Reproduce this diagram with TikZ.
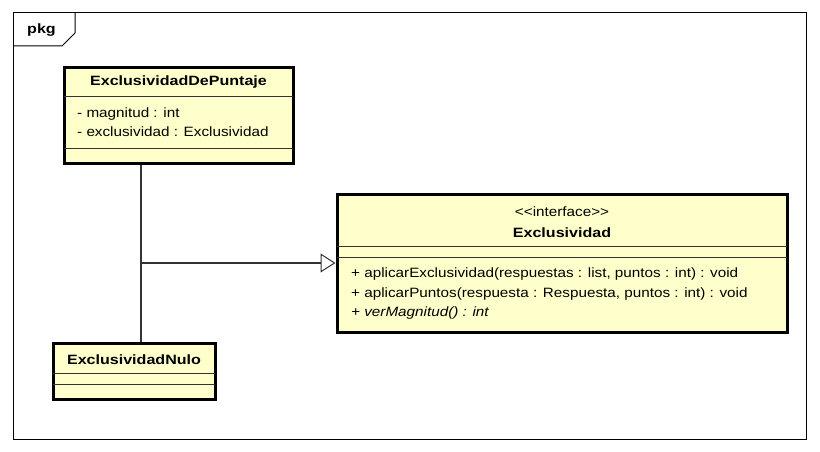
\documentclass[tikz,border=0pt]{standalone}
\usepackage{fontspec}
\setmainfont{Liberation Sans}[FakeStretch=1.13, BoldFeatures={FakeStretch=1.19}, BoldItalicFeatures={FakeStretch=1.19}]
\usetikzlibrary{arrows.meta}
\definecolor{classfill}{RGB}{255,255,204}
\definecolor{inkgray}{RGB}{51,51,51}
\newcommand\compline[3]{\draw [sep] (#1, #3) -- (#2, #3);}
\tikzset{
  classbox/.style={draw, fill=classfill, line width=3pt, inner sep=0},
  sep/.style={inkgray, line width=1pt},
  txt/.style={inner sep=0, font=\fontsize{13.5}{15}\selectfont},
  bold/.style={txt, font=\fontsize{13.5}{15}\selectfont\bfseries},
  link/.style={inkgray, line width=1.1pt}
}

\begin{document}
\begin{tikzpicture}[x=1pt, y=-1pt]
     \useasboundingbox (0, 0) rectangle (820, 452);

     \draw [line width=1pt] (13, 13) rectangle (806, 439);
     \draw [line width=1pt] (13, 46) -- (62, 46) -- (75, 33) -- (75, 13);
     \node [bold] (pkg) at (41.5, 30) {pkg};

     \node [classbox, minimum width=229, minimum height=95] (dp) at (178.5, 115.5) {};
     \compline{64}{293}{97}
     \compline{64}{293}{148}
     \node [bold] (dpname) at (178.5, 82) {ExclusividadDePuntaje};
     \node [txt, anchor=west] (dpa1) at (77, 114) {- magnitud : int};
     \node [txt, anchor=west] (dpa2) at (77, 132) {- exclusividad : Exclusividad};

     \node [classbox, minimum width=450, minimum height=138] (ex) at (562, 263) {};
     \compline{337}{787}{246}
     \compline{337}{787}{257}
     \node [txt] (exst) at (562, 212) {<\kern0pt<interface>\kern0pt>};
     \node [bold] (exname) at (562, 233) {Exclusividad};
     \node [txt, anchor=west] (exm1) at (351, 274) {+ aplicarExclusividad(respuestas : list, puntos : int) : void};
     \node [txt, anchor=west] (exm2) at (351, 294) {+ aplicarPuntos(respuesta : Respuesta, puntos : int) : void};
     \node [txt, anchor=west] (exm3) at (351, 313) {\itshape + verMagnitud() : int};

     \node [classbox, minimum width=162, minimum height=56] (nu) at (134, 371) {};
     \compline{53}{215}{373}
     \compline{53}{215}{384}
     \node [bold] (nuname) at (134, 360) {ExclusividadNulo};

     \coordinate (jn) at (141, 263);
     \draw [link] (jn |- dp.south) -- (jn |- nu.north);
     \draw [link, -{Triangle[open, length=15pt, width=19pt, fill=white, line width=1pt]}] (jn) -- (jn -| ex.west);
    \end{tikzpicture}
\end{document}
